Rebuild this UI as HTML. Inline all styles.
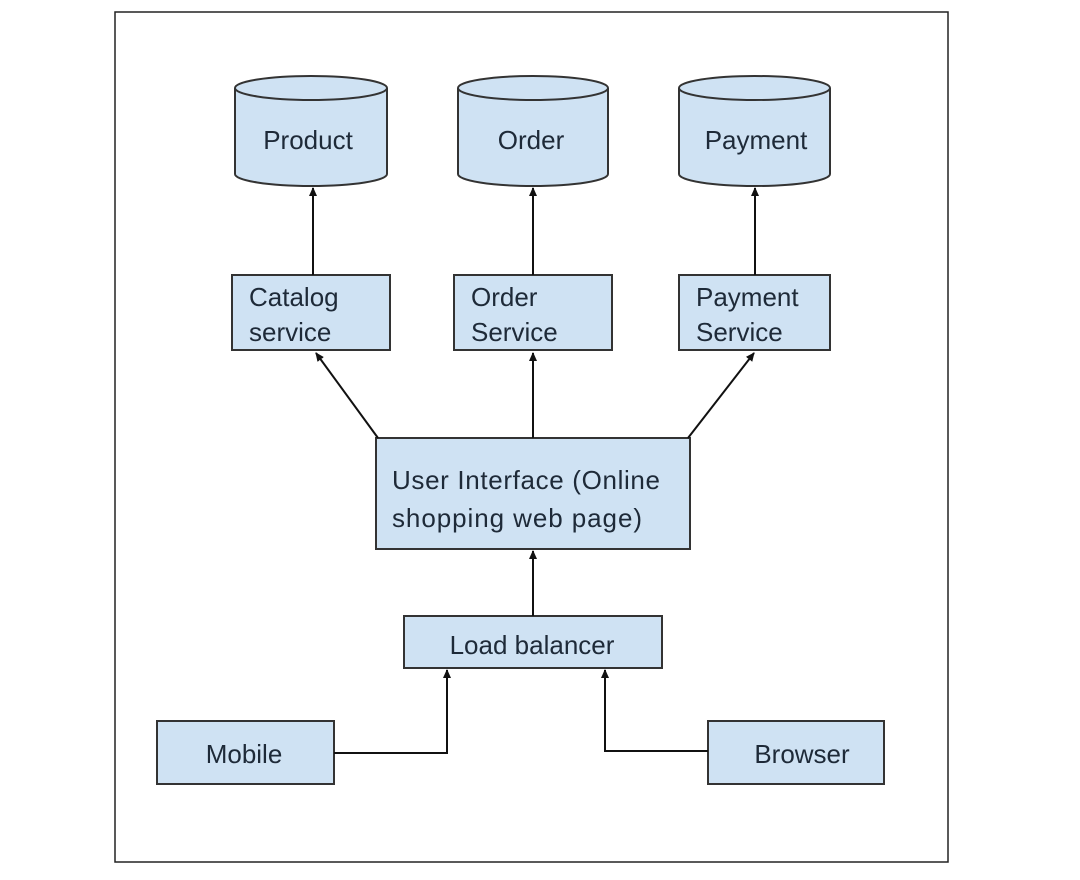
<!DOCTYPE html>
<html><head><style>body{margin:0;background:#fff}</style></head><body>
<svg width="1080" height="875" xmlns="http://www.w3.org/2000/svg" font-family="Liberation Sans, sans-serif" font-size="26" fill="#1e2a38">
<defs><marker id="a" markerWidth="10" markerHeight="10" refX="8" refY="5" orient="auto" markerUnits="userSpaceOnUse"><path d="M0,1 L9,5 L0,9 z" fill="#111"/></marker></defs>
<rect x="115" y="12" width="833" height="850" fill="none" stroke="#222" stroke-width="1.5"/>
<g stroke="#333" stroke-width="2" fill="#cfe2f3">
<path d="M235,88 L235,174 A76,12 0 0 0 387,174 L387,88"/><ellipse cx="311" cy="88" rx="76" ry="12"/>
<path d="M458,88 L458,174 A75,12 0 0 0 608,174 L608,88"/><ellipse cx="533" cy="88" rx="75" ry="12"/>
<path d="M679,88 L679,174 A75.5,12 0 0 0 830,174 L830,88"/><ellipse cx="754.5" cy="88" rx="75.5" ry="12"/>
<rect x="232" y="275" width="158" height="75"/>
<rect x="454" y="275" width="158" height="75"/>
<rect x="679" y="275" width="151" height="75"/>
<rect x="376" y="438" width="314" height="111"/>
<rect x="404" y="616" width="258" height="52"/>
<rect x="157" y="721" width="177" height="63"/>
<rect x="708" y="721" width="176" height="63"/>
</g>
<g stroke="#111" stroke-width="2" fill="none" marker-end="url(#a)">
<line x1="313" y1="275" x2="313" y2="188"/>
<line x1="533" y1="275" x2="533" y2="188"/>
<line x1="755" y1="275" x2="755" y2="188"/>
<line x1="378" y1="438" x2="316" y2="353"/>
<line x1="533" y1="438" x2="533" y2="353"/>
<line x1="688" y1="438" x2="754" y2="353"/>
<line x1="533" y1="616" x2="533" y2="551"/>
<polyline points="334,753 447,753 447,670"/>
<polyline points="708,751 605,751 605,670"/>
</g>
<g>
<text x="308" y="149" text-anchor="middle">Product</text>
<text x="531" y="149" text-anchor="middle">Order</text>
<text x="756" y="149" text-anchor="middle">Payment</text>
<text x="249" y="306">Catalog</text><text x="249" y="341">service</text>
<text x="471" y="306">Order</text><text x="471" y="341">Service</text>
<text x="696" y="306">Payment</text><text x="696" y="341">Service</text>
<text x="392" y="489" textLength="268">User Interface (Online</text>
<text x="392" y="527" textLength="250">shopping  web page)</text>
<text x="532" y="654" text-anchor="middle">Load balancer</text>
<text x="244" y="763" text-anchor="middle">Mobile</text>
<text x="802" y="763" text-anchor="middle">Browser</text>
</g>
</svg>
</body></html>
